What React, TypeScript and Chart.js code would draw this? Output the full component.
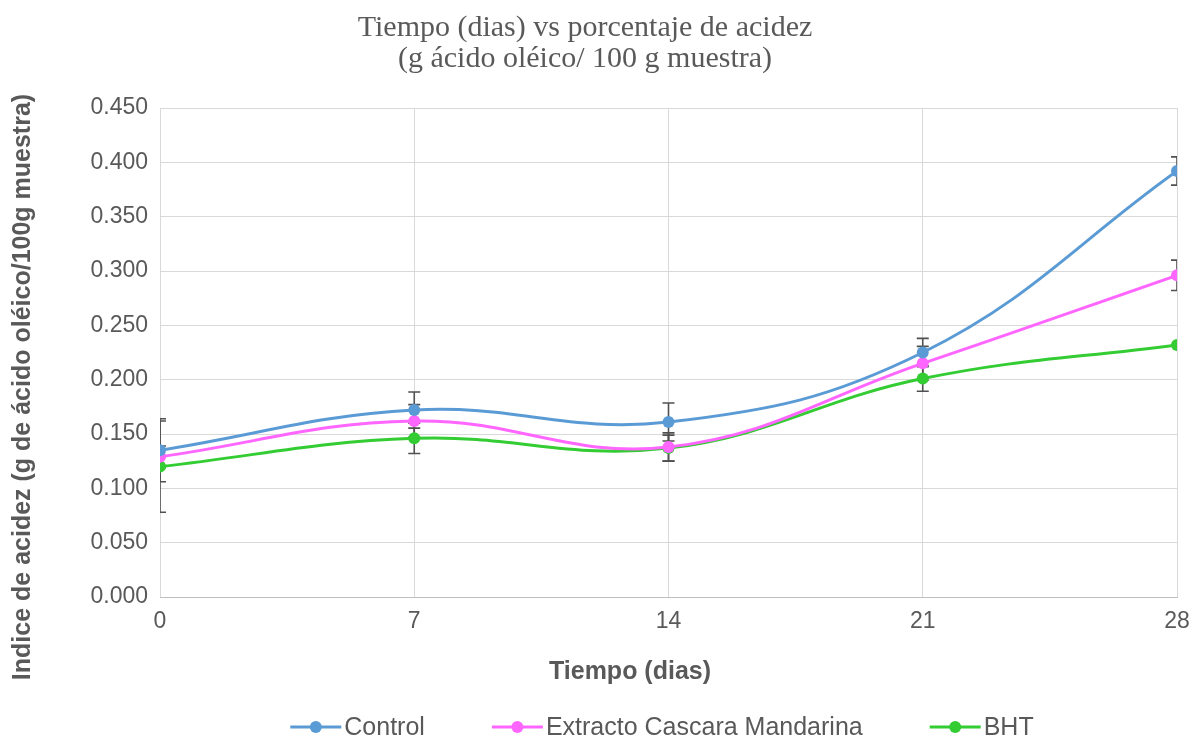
import React, { useEffect, useRef } from "react";
import { Chart, registerables } from "chart.js";

Chart.register(...registerables);

const days = [0, 7, 14, 21, 28];
const controlValues = [0.135, 0.172, 0.161, 0.225, 0.392];
const extractoValues = [0.129, 0.162, 0.138, 0.215, 0.296];
const bhtValues = [0.12, 0.146, 0.137, 0.201, 0.232];
const controlErrors = [0.029, 0.0166, 0.0175, 0.013, 0.013];
const extractoErrors = [0.01, 0.015, 0.013, 0.0156, 0.014];
const bhtErrors = [0.042, 0.014, 0.012, 0.0117, 0];
const seriesNames = ["Control", "Extracto Cascara Mandarina", "BHT"];
const seriesColors = ["#5B9BD5", "#FF66FF", "#33CC33"];
const titleLines = ["Tiempo (dias) vs porcentaje de acidez", "(g ácido oléico/ 100 g muestra)"];
const xAxisTitle = "Tiempo (dias)";
const yAxisTitle = "Indice de acidez (g de ácido oléico/100g muestra)";
const yMin = 0;
const yMax = 0.45;
const yStep = 0.05;
const xStep = 7;

const SANS = "'Liberation Sans', Arial, sans-serif";
const SERIF = "'Liberation Serif', 'Times New Roman', serif";
const TEXT = "#595959";

const allValues = [controlValues, extractoValues, bhtValues];
const allErrors = [controlErrors, extractoErrors, bhtErrors];

const errorBarPlugin = {
  id: "errorBars",
  beforeDatasetsDraw(chart: any) {
    const { ctx, chartArea, scales } = chart;
    const xs = scales.x;
    const ys = scales.y;
    ctx.save();
    ctx.beginPath();
    ctx.rect(chartArea.left, chartArea.top, chartArea.right - chartArea.left, chartArea.bottom - chartArea.top);
    ctx.clip();
    ctx.strokeStyle = "#505050";
    ctx.lineWidth = 1.6;
    allValues.forEach((vals, i) => {
      vals.forEach((v, j) => {
        const e = allErrors[i][j];
        if (!e) return;
        const x = xs.getPixelForValue(days[j]);
        const yt = ys.getPixelForValue(v + e);
        const yb = ys.getPixelForValue(v - e);
        ctx.beginPath();
        ctx.moveTo(x, yt);
        ctx.lineTo(x, yb);
        ctx.moveTo(x - 6, yt);
        ctx.lineTo(x + 6, yt);
        ctx.moveTo(x - 6, yb);
        ctx.lineTo(x + 6, yb);
        ctx.stroke();
      });
    });
    ctx.restore();
  },
};

const extrasPlugin = {
  id: "extras",
  afterDraw(chart: any) {
    const { ctx } = chart;
    ctx.save();
    ctx.fillStyle = TEXT;
    ctx.textAlign = "center";
    ctx.textBaseline = "middle";

    // chart title
    ctx.font = `30px ${SERIF}`;
    titleLines.forEach((line, i) => {
      ctx.fillText(line, 585, 28 + i * 31);
    });

    // axis titles
    ctx.font = `bold 25px ${SANS}`;
    ctx.fillText(xAxisTitle, 630, 672);
    ctx.save();
    ctx.translate(23, 387);
    ctx.rotate(-Math.PI / 2);
    ctx.fillText(yAxisTitle, 0, 0);
    ctx.restore();

    // legend
    ctx.font = `25px ${SANS}`;
    const lineLen = 51;
    const gapText = 3;
    const gapItem = 67;
    const widths = seriesNames.map((n) => ctx.measureText(n).width);
    const total = widths.reduce((a, w) => a + lineLen + gapText + w, 0) + gapItem * (seriesNames.length - 1);
    let x = 662 - total / 2;
    const y = 727;
    ctx.textAlign = "left";
    seriesNames.forEach((n, i) => {
      ctx.strokeStyle = seriesColors[i];
      ctx.lineWidth = 3;
      ctx.beginPath();
      ctx.moveTo(x, y);
      ctx.lineTo(x + lineLen, y);
      ctx.stroke();
      ctx.fillStyle = seriesColors[i];
      ctx.beginPath();
      ctx.arc(x + lineLen / 2, y, 6, 0, Math.PI * 2);
      ctx.fill();
      ctx.fillStyle = TEXT;
      ctx.fillText(n, x + lineLen + gapText, y + 1);
      x += lineLen + gapText + widths[i] + gapItem;
    });
    ctx.restore();
  },
};

export default function App() {
  const ref = useRef<HTMLCanvasElement | null>(null);
  useEffect(() => {
    if (!ref.current) return;
    const datasets = seriesNames.map((name, i) => ({
      label: name,
      data: days.map((d, j) => ({ x: d, y: allValues[i][j] })),
      borderColor: seriesColors[i],
      backgroundColor: seriesColors[i],
      pointBackgroundColor: seriesColors[i],
      pointBorderColor: seriesColors[i],
      borderWidth: 3,
      pointRadius: 6,
      pointBorderWidth: 0,
      tension: 0.4,
      fill: false,
    }));
    const chart = new Chart(ref.current, {
      type: "line",
      data: { datasets },
      plugins: [errorBarPlugin, extrasPlugin],
      options: {
        animation: false,
        responsive: false,
        events: [],
        layout: { padding: { top: 108, right: 0, bottom: 0, left: 0 } },
        plugins: {
          legend: { display: false },
          tooltip: { enabled: false },
          title: { display: false },
        },
        scales: {
          x: {
            type: "linear",
            min: days[0],
            max: days[days.length - 1],
            afterFit(scale: any) {
              scale.height = 144;
              scale.paddingRight = 16;
              scale.paddingLeft = 0;
            },
            afterBuildTicks(scale: any) {
              scale.ticks = days.map((d) => ({ value: d }));
            },
            ticks: {
              stepSize: xStep,
              color: TEXT,
              font: { family: SANS, size: 23 },
              padding: 11,
              maxRotation: 0,
            },
            grid: { color: "#d9d9d9", lineWidth: 1, drawTicks: false },
            border: { color: "#bfbfbf", width: 1 },
          },
          y: {
            min: yMin,
            max: yMax,
            afterFit(scale: any) {
              scale.width = 160;
            },
            ticks: {
              stepSize: yStep,
              color: TEXT,
              font: { family: SANS, size: 23 },
              padding: 12,
              callback: (v: any) => Number(v).toFixed(3),
            },
            grid: { color: "#d9d9d9", lineWidth: 1, drawTicks: false },
            border: { display: false },
          },
        },
      },
    });
    return () => chart.destroy();
  }, []);
  return (
    <div style={{ position: "fixed", left: 0, top: 0, width: 1193, height: 741, background: "#fff" }}>
      <canvas ref={ref} width={1193} height={741} style={{ width: 1193, height: 741 }} />
    </div>
  );
}
